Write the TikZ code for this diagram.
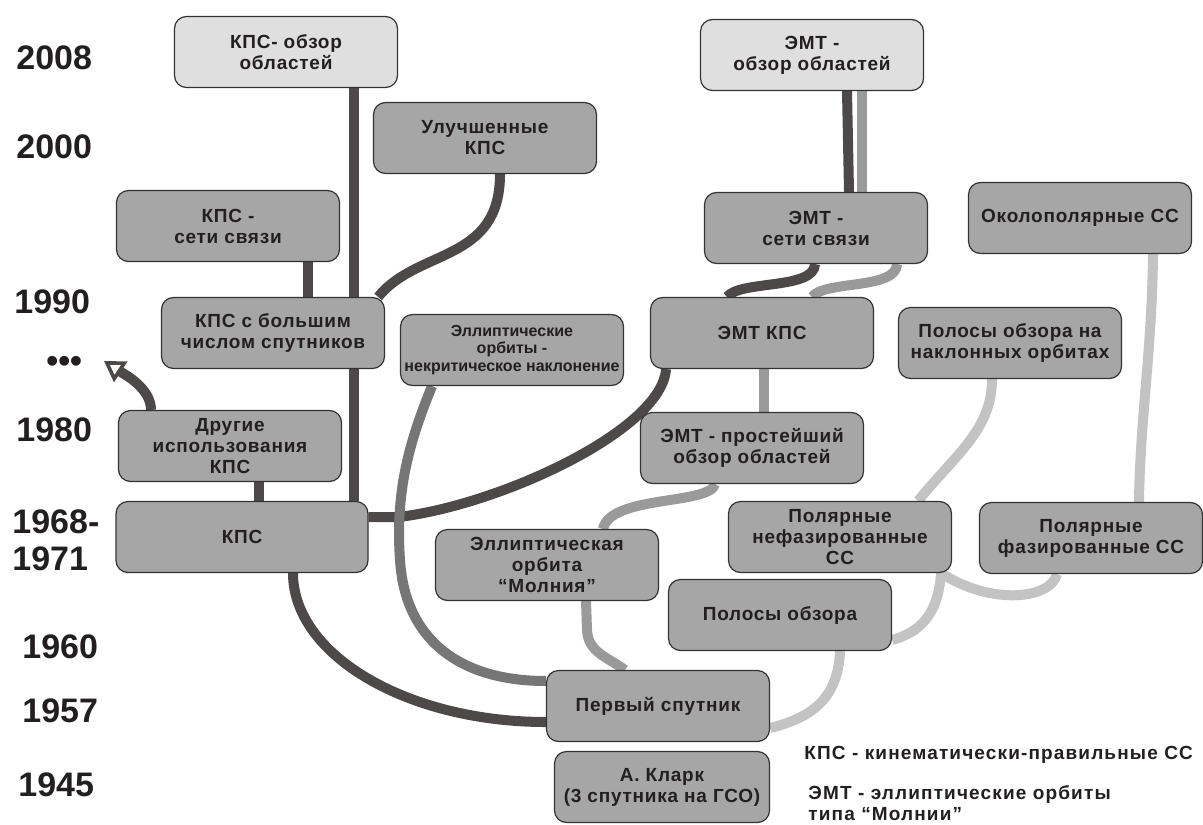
\documentclass[tikz,border=0pt]{standalone}
\usepackage{fontspec}
\setmainfont{Liberation Sans}
\usetikzlibrary{arrows.meta, calc, backgrounds}

\definecolor{boxgray}{HTML}{A6A6A6}
\definecolor{boxlight}{HTML}{DFDFDF}
\definecolor{edge}{HTML}{333333}
\definecolor{ink}{HTML}{231F20}
\definecolor{dkline}{HTML}{4D4948}
\definecolor{mdkline}{HTML}{767676}
\definecolor{mdline}{HTML}{9A9A9A}
\definecolor{ltline}{HTML}{C3C3C3}

\begin{document}
\begin{tikzpicture}[
  x=0.5pt, y=-0.5pt,
  stage/.style={rectangle, rounded corners=6pt, draw=edge, line width=0.6pt, fill=boxgray,
    minimum width=111.5pt, minimum height=35.5pt, align=center, inner sep=1pt, text=ink,
    font=\bfseries\fontsize{9.5}{10.5}\selectfont\addfontfeatures{LetterSpace=4}},
  stagelt/.style={stage, fill=boxlight},
  era/.style={anchor=west, inner sep=0pt, text=ink, font=\bfseries\fontsize{17}{18.5}\selectfont},
  note/.style={anchor=west, align=left, inner sep=0pt, text=ink,
    font=\bfseries\fontsize{9.5}{10.5}\selectfont\addfontfeatures{LetterSpace=6}},
  link/.style={line width=5pt},
  dk/.style={link, draw=dkline},
  mdk/.style={link, draw=mdkline},
  md/.style={link, draw=mdline},
  lt/.style={link, draw=ltline},
  arr/.style={-{Triangle[open, length=10pt, width=12pt, line width=1.8pt]}}
]
\useasboundingbox (0,0) rectangle (1203,824);

% years
\node[era] (y2008) at (16,58) {2008};
\node[era] (y2000) at (16,147) {2000};
\node[era] (y1990) at (14,302) {1990};
\node[era] (dots) at (46,364) {•••};
\node[era] (y1980) at (16,430) {1980};
\node[era, align=left] (y1968) at (12,540) {1968-\\1971};
\node[era] (y1960) at (22,647) {1960};
\node[era] (y1957) at (22,711) {1957};
\node[era] (y1945) at (18,785) {1945};
\coordinate (etcend) at (104,361);

% stages
\node[stagelt] (kpsobzor) at (286,52) {КПС- обзор\\областей};
\node[stagelt] (emtobzor) at (812,55) {ЭМТ -\\обзор областей};
\node[stage] (uluch) at (485,138) {Улучшенные\\КПС};
\node[stage] (kpsseti) at (228,226) {КПС -\\сети связи};
\node[stage] (emtseti) at (816,228) {ЭМТ -\\сети связи};
\node[stage] (okolo) at (1080,218) {Околополярные СС};
\node[stage] (kpsbig) at (273,333) {КПС с большим\\числом спутников};
\node[stage, font=\bfseries\fontsize{8}{8.8}\selectfont] (ellnekr) at (512,350) {Эллиптические\\орбиты -\\некритическое наклонение};
\node[stage] (emtkps) at (762,333) {ЭМТ КПС};
\node[stage] (polnakl) at (1010,343) {Полосы обзора на\\наклонных орбитах};
\node[stage] (drugie) at (230,446) {Другие\\использования\\КПС};
\node[stage] (emtprost) at (752,448) {ЭМТ - простейший\\обзор областей};
\node[stage, minimum width=126pt] (kps) at (242,537) {КПС};
\node[stage] (polnefaz) at (840,537) {Полярные\\нефазированные\\СС};
\node[stage] (polfaz) at (1091,538) {Полярные\\фазированные СС};
\node[stage] (ellmoln) at (547,565) {Эллиптическая\\орбита\\“Молния”};
\node[stage] (polosy) at (780,615) {Полосы обзора};
\node[stage] (perviy) at (658,706) {Первый спутник};
\node[stage, minimum width=107.5pt] (klark) at (662,787) {А. Кларк\\(3 спутника на ГСО)};

% legend
\node[note] (legkps) at (804,755) {КПС - кинематически-правильные СС};
\node[note] (legemt) at (808,803) {ЭМТ - эллиптические орбиты\\типа “Молнии”};

\begin{scope}[on background layer]
\fill[white] (0,0) rectangle (1203,824);
% KPS branch
\draw[dk] ($(kpsobzor.south)+(68,0)$) -- ($(kps.north)+(112,0)$);
\draw[dk] ($(kpsseti.south)+(80,0)$) -- ($(kpsbig.north)+(35,0)$);
\draw[dk] ($(uluch.south)+(15,0)$) .. controls (500,263) and (418,248) .. ($(kpsbig.north east)+(-7,0)$);
\draw[dk] ($(drugie.south)+(29,0)$) -- ($(kps.north)+(17,0)$);
\draw[dk, arr] ($(drugie.north)+(-79,0)$) .. controls (151,388) and (124,374) .. (etcend);
\draw[dk] ($(kps.east)+(0,-20)$) -- ++(30,0) .. controls (500,505) and (662,430) .. ($(emtkps.south)+(-96,0)$);
\draw[dk] ($(kps.south)+(51,0)$) .. controls (293,655) and (407,722) .. ($(perviy.west)+(0,16)$);
% EMT branch
\draw[dk] ($(emtobzor.south)+(35,0)$) -- ($(emtseti.north)+(33,0)$);
\draw[dk] ($(emtseti.south)+(-1,0)$) .. controls (814,290) and (740,280) .. ($(emtkps.north)+(-35,0)$);
\draw[md] ($(emtobzor.south)+(50,0)$) -- ($(emtseti.north)+(46,0)$);
\draw[md] ($(emtseti.south)+(81,0)$) .. controls (896,290) and (825,280) .. ($(emtkps.north)+(50,0)$);
\draw[md] ($(emtkps.south)+(2,0)$) -- ($(emtprost.north)+(12,0)$);
\draw[md] ($(emtprost.south)+(-37,0)$) .. controls (710,505) and (610,495) .. ($(ellmoln.north)+(56,0)$);
\draw[md] ($(ellmoln.south)+(39,0)$) -- ++(1,29) .. controls (588,652) and (607,657) .. ($(perviy.north)+(-33,0)$);
\draw[mdk] ($(ellnekr.south)+(-80,0)$) .. controls (410,440) and (395,490) .. (400,560)
  .. controls (405,640) and (460,681) .. ($(perviy.west)+(0,-25)$);
% polar branch
\draw[lt] ($(okolo.south)+(73,0)$) .. controls (1152,350) and (1140,420) .. ($(polfaz.north)+(48,0)$);
\draw[lt] ($(polnakl.south)+(-18,0)$) .. controls (992,430) and (955,455) .. ($(polnefaz.north)+(78,0)$);
\draw[lt] ($(polfaz.south)+(-34,0)$) .. controls (1050,600) and (990,605) .. ($(polnefaz.south east)+(-11,0)$);
\draw[lt] ($(polnefaz.south east)+(-11,0)$) .. controls (938,615) and (920,632) .. ($(polosy.east)+(0,25)$);
\draw[lt] ($(polosy.south)+(60,0)$) .. controls (838,700) and (810,718) .. ($(perviy.east)+(0,22)$);
\end{scope}
\end{tikzpicture}
\end{document}
